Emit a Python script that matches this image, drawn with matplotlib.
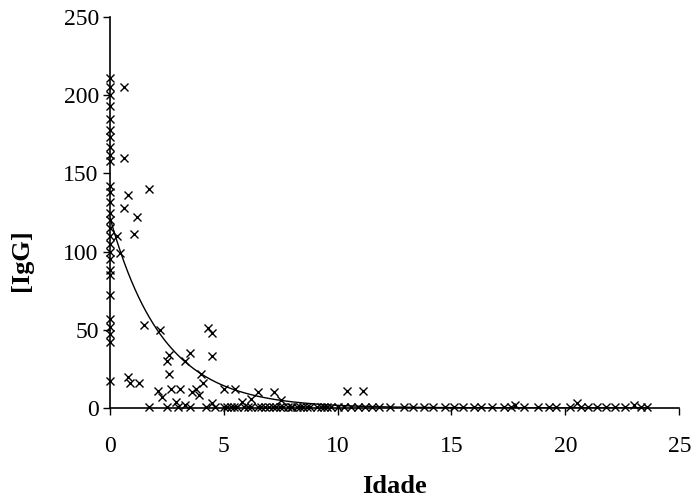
import numpy as np
import matplotlib
matplotlib.use("Agg")
import matplotlib.pyplot as plt

# Data (Idade vs [IgG])
idade_col0 = [0.0] * 28
igg_col0 = [211, 205, 200, 193, 185, 178, 173, 167, 162, 158, 142, 138, 132, 125,
            120, 115, 110, 105, 100, 95, 88, 85, 72, 57, 52, 47, 42, 17]

idade_scatter = [0.6, 0.6, 1.7, 0.8, 0.6, 1.2, 1.05, 0.3, 0.45, 1.5, 2.2, 4.3, 4.5,
                 4.5, 3.5, 3.3, 2.6, 2.5, 2.6, 0.8, 0.9, 1.3, 4.0, 4.1, 3.8, 3.9,
                 2.1, 2.3, 2.7, 3.1, 3.3, 5.0, 5.5, 6.5, 7.2, 7.5, 10.4, 11.1,
                 20.5, 23.0, 17.8, 4.5, 5.8, 6.2, 3.6, 2.9]
igg_scatter = [205, 160, 140, 136, 128, 122, 111, 110, 99, 53, 50, 51, 48,
               33, 35, 30, 34, 30, 22, 20, 16, 16, 22, 16, 12, 8,
               11, 7, 12, 12, 2, 12, 12, 10, 10, 5, 11, 11,
               3, 2, 2, 3, 4, 6, 10, 4]

idade_zero = [1.7, 2.5, 3.0, 3.5, 4.2, 4.6, 5.0, 5.3, 5.6, 5.9, 6.2, 6.5, 6.8, 7.0,
              7.3, 7.6, 7.8, 8.0, 8.2, 8.5, 8.8, 9.1, 9.4, 9.7, 10.0, 10.3, 10.6,
              10.9, 11.2, 11.5, 11.8, 12.3, 12.9, 13.3, 13.8, 14.2, 14.7, 15.1,
              15.5, 16.0, 16.3, 16.8, 17.3, 17.6, 18.2, 18.8, 19.3, 19.6, 20.2,
              20.7, 21.0, 21.4, 21.8, 22.2, 22.6, 23.3, 23.6,
              5.15, 5.45, 6.05, 6.65, 7.15, 7.45, 7.95, 8.35, 8.65, 9.25, 9.55]
igg_zero = [0.5] * len(idade_zero)

# Exponential trend-line parameters
fit_a = 122.0
fit_b = 0.43

x_ticks = [0, 5, 10, 15, 20, 25]
y_ticks = [0, 50, 100, 150, 200, 250]

plt.rcParams['font.family'] = ['Liberation Serif', 'DejaVu Serif']

fig = plt.figure(figsize=(6.91, 5.03), dpi=100)
ax = fig.add_axes([0.159, 0.189, 0.824, 0.777])

ax.plot(idade_col0 + idade_scatter + idade_zero,
        igg_col0 + igg_scatter + igg_zero,
        linestyle='none', marker='x', color='black', markersize=6,
        markeredgewidth=1.0, clip_on=False, zorder=3)

xf = np.linspace(0, 23.6, 300)
ax.plot(xf, fit_a * np.exp(-fit_b * xf), color='black', linewidth=1.0, zorder=2)

ax.set_xlim(0, 25)
ax.set_ylim(0, 250)
ax.set_xticks(x_ticks)
ax.set_yticks(y_ticks)
ax.tick_params(direction='out', length=5, width=1, labelsize=17)
ax.tick_params(axis='y', pad=3)
ax.tick_params(axis='x', pad=15)
for s in ['top', 'right']:
    ax.spines[s].set_visible(False)
for s in ['left', 'bottom']:
    ax.spines[s].set_linewidth(1.2)

ax.set_xlabel('Idade', fontsize=19, fontweight='bold')
ax.set_ylabel('[IgG]', fontsize=19, fontweight='bold')
ax.xaxis.label.set_va('center')
ax.yaxis.label.set_va('center')
ax.xaxis.set_label_coords(0.5, -0.2)
ax.yaxis.set_label_coords(-0.155, 0.378)

fig.savefig('out.png', dpi=100)
